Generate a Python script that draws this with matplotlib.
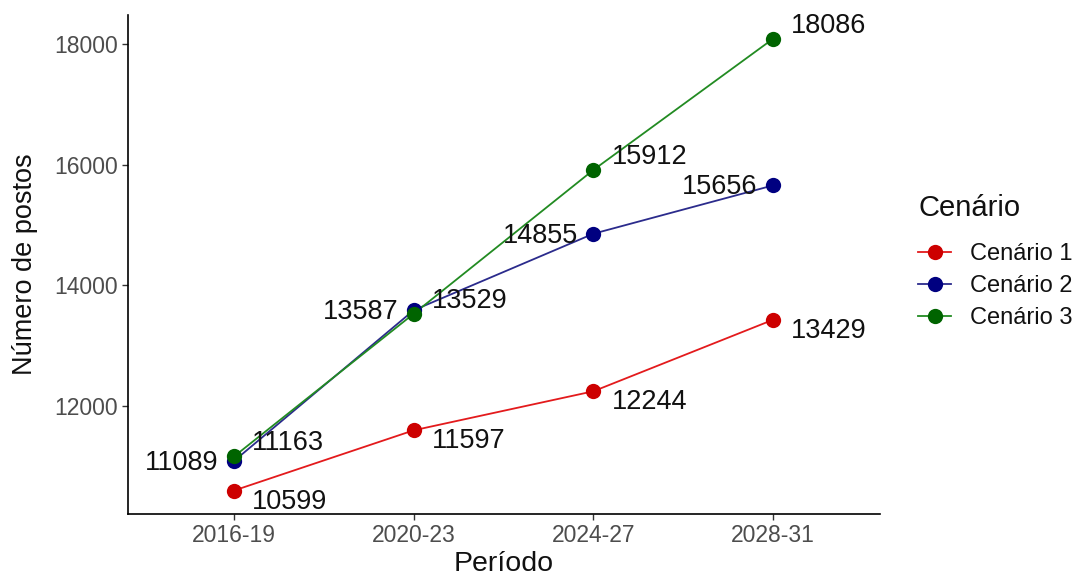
import matplotlib
matplotlib.use("Agg")
import matplotlib.pyplot as plt
from matplotlib.lines import Line2D

periods = ["2016-19", "2020-23", "2024-27", "2028-31"]
cen1 = [10599, 11597, 12244, 13429]
cen2 = [11089, 13587, 14855, 15656]
cen3 = [11163, 13529, 15912, 18086]
names = ["Cenário 1", "Cenário 2", "Cenário 3"]
point_colors = ["#CD0000", "#000080", "#006400"]
line_colors = ["#E31A1C", "#2B2B8C", "#228B22"]
label_offsets = [(13, -8, "left"), (-11, -1.5, "right"), (13, 9.5, "left")]

plt.rcParams["font.family"] = ["Liberation Sans", "DejaVu Sans"]

fig = plt.figure(figsize=(10.8, 5.75), dpi=100)
ax = fig.add_axes([128/1080, 1-514/575, (880-128)/1080, (514-15)/575])

x = list(range(len(periods)))
handles = []
for vals, name, pc, lc, (dx, dy, ha) in zip([cen1, cen2, cen3], names, point_colors, line_colors, label_offsets):
    ax.plot(x, vals, color=lc, lw=1.3, zorder=2)
    ax.plot(x, vals, "o", color=pc, ms=11, zorder=3, markeredgewidth=0)
    for xi, v in zip(x, vals):
        ax.annotate(str(v), (xi, v), xytext=(dx, dy), textcoords="offset points",
                    ha=ha, va="center", fontsize=19.5, color="#111111", zorder=4)
    handles.append(Line2D([0], [0], color=lc, lw=1.3, marker="o", ms=11,
                          markerfacecolor=pc, markeredgewidth=0, label=name))

ax.set_xlim(-0.59, 3.595)
ax.set_ylim(10210, 18480)
ax.set_xticks(x)
ax.set_xticklabels(periods)
ax.set_yticks([12000, 14000, 16000, 18000])
ax.tick_params(axis="both", labelsize=16.5, colors="#333333", length=4, width=1,
               labelcolor="#4D4D4D", pad=3)
for s in ["top", "right"]:
    ax.spines[s].set_visible(False)
for s in ["left", "bottom"]:
    ax.spines[s].set_linewidth(1.2)
ax.set_xlabel("Período", fontsize=20.5, labelpad=3, color="#111111")
ax.set_ylabel("Número de postos", fontsize=19.5, labelpad=12, color="#111111")

fig.text(918/1080, 1-208/575, "Cenário", fontsize=21, color="#111111",
         ha="left", va="center")
leg = fig.legend(handles=handles, loc="upper left",
                 bbox_to_anchor=(918/1080, 1-243/575), frameon=False,
                 fontsize=17, handlelength=1.4, handletextpad=0.8,
                 labelspacing=0.42, borderpad=0, borderaxespad=0)
for t in leg.get_texts():
    t.set_color("#111111")

fig.savefig("out.png", dpi=100)
